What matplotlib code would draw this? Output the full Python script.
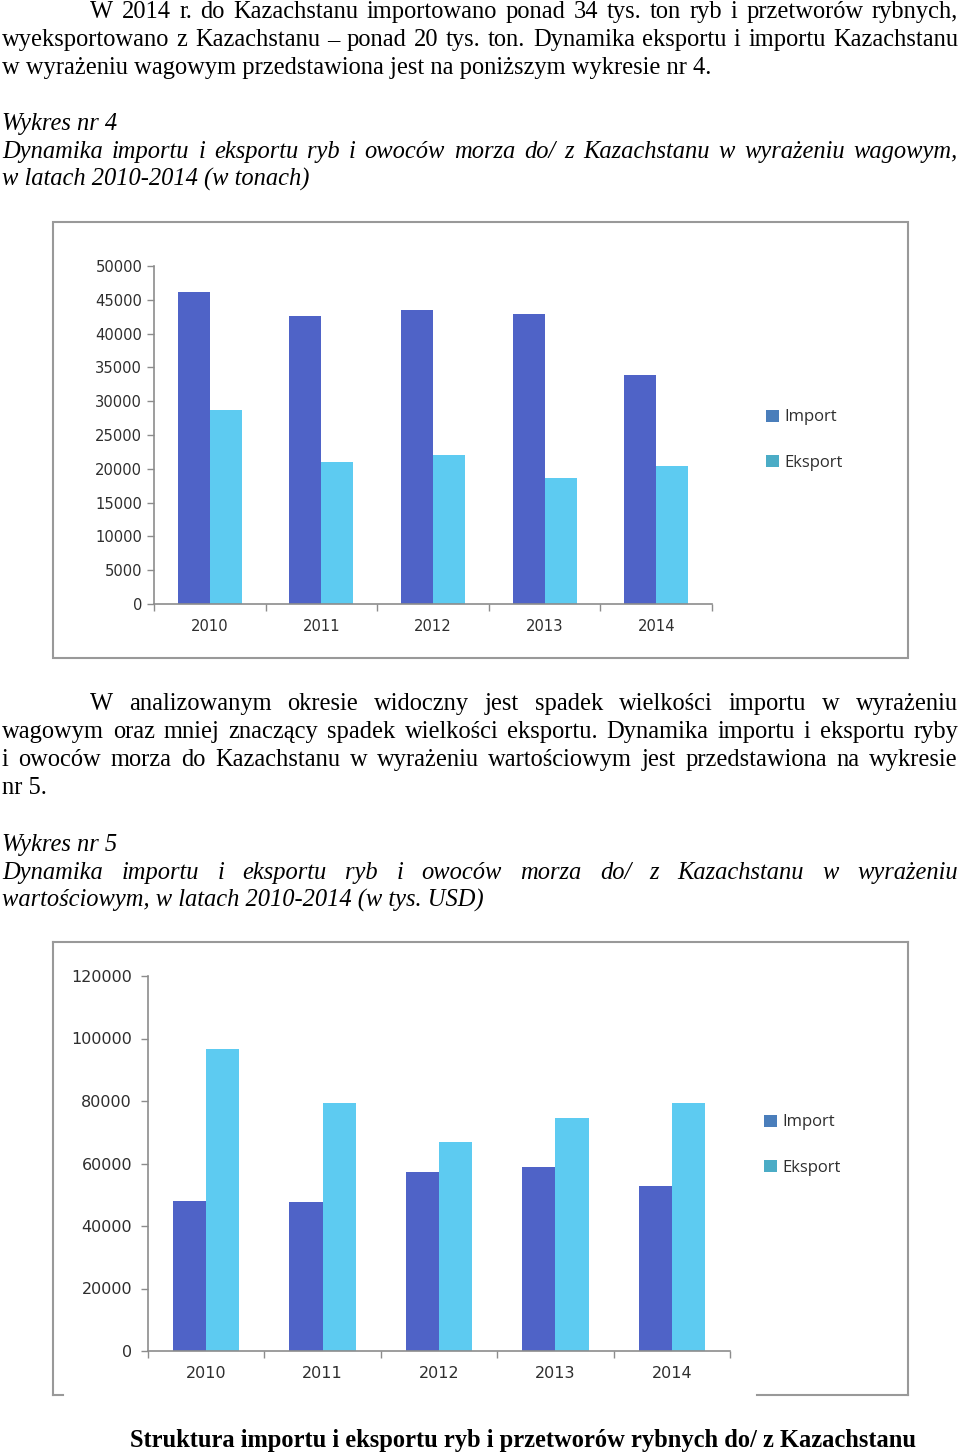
import numpy as np
import matplotlib
matplotlib.use('Agg')
import matplotlib.pyplot as plt
from matplotlib.patches import Patch, Rectangle
from matplotlib.lines import Line2D
from matplotlib.ticker import FuncFormatter

# ---------------- data ----------------
years = ['2010', '2011', '2012', '2013', '2014']
import_tons = [46200, 42600, 43500, 42900, 33900]
export_tons = [28700, 21000, 22000, 18600, 20400]
import_usd = [48000, 47700, 57300, 58900, 52800]
export_usd = [96700, 79400, 66900, 74600, 79400]
legend_labels = ['Import', 'Eksport']

IMP_C = '#4F63C7'
EXP_C = '#5DCBF1'
IMP_LEG = '#4A7EBB'
EXP_LEG = '#4BACC6'
AX_C = '#8C8C8C'
TXT_C = '#2E2E2E'

W, H = 960, 1456
fig = plt.figure(figsize=(W / 100, H / 100), dpi=100)
renderer = fig.canvas.get_renderer()


def fx(px):
    return px / W


def fy(py):
    return 1 - py / H


def axes_px(l, t, r, b):
    return fig.add_axes([l / W, 1 - b / H, (r - l) / W, (b - t) / H])


def bar_chart(ax, imp, exp, ymax, step, leg_x, leg_cy, lsize, ypad):
    x = np.arange(len(years))
    w = 0.286
    ax.bar(x - w / 2, imp, w, color=IMP_C, edgecolor='none', zorder=2)
    ax.bar(x + w / 2, exp, w, color=EXP_C, edgecolor='none', zorder=2)
    ax.set_xlim(-0.5, len(years) - 0.5)
    ax.set_ylim(0, ymax)
    ax.set_yticks(np.arange(0, ymax + 1, step))
    ax.yaxis.set_major_formatter(FuncFormatter(lambda v, p: f'{int(v)}'))
    ax.set_xticks(x)
    ax.set_xticklabels(years)
    ax.set_xticks(np.arange(-0.5, len(years)), minor=True)
    ax.tick_params(axis='x', which='major', length=0, pad=11, labelsize=lsize, labelcolor=TXT_C)
    ax.tick_params(axis='x', which='minor', length=5, width=1, color=AX_C, direction='out')
    ax.tick_params(axis='y', length=5, width=1, color=AX_C, pad=ypad, labelsize=lsize, labelcolor=TXT_C)
    for s in ['top', 'right']:
        ax.spines[s].set_visible(False)
    for s in ['left', 'bottom']:
        ax.spines[s].set_color(AX_C)
        ax.spines[s].set_linewidth(1.2)
    handles = [Patch(facecolor=IMP_LEG, edgecolor='none'), Patch(facecolor=EXP_LEG, edgecolor='none')]
    leg = ax.legend(handles, legend_labels, loc='center left',
                    bbox_to_anchor=(fx(leg_x), fy(leg_cy)), bbox_transform=fig.transFigure,
                    frameon=False, prop={'family': 'Open Sans', 'size': 12},
                    handlelength=0.75, handleheight=0.75, handletextpad=0.35,
                    labelspacing=1.75, borderpad=0, borderaxespad=0)
    for t in leg.get_texts():
        t.set_color(TXT_C)


# ---------------- chart 1 ----------------
fig.add_artist(Rectangle((fx(53), fy(658)), fx(908) - fx(53), fy(222) - fy(658),
                         transform=fig.transFigure, fill=False, edgecolor='#999999', lw=1.5))
ax1 = axes_px(154, 266, 712, 604)
bar_chart(ax1, import_tons, export_tons, 50000, 5000, 766, 440, 10.6, 3.5)

# ---------------- chart 2 ----------------
for xs, ys in [([53, 908], [942, 942]), ([53, 53], [942, 1395]), ([908, 908], [942, 1395]),
               ([53, 63], [1395, 1395]), ([757, 908], [1395, 1395])]:
    fig.add_artist(Line2D([fx(v) for v in xs], [fy(v) for v in ys],
                          transform=fig.transFigure, color='#999999', lw=1.5))
ax2 = axes_px(148, 976, 730, 1351)
bar_chart(ax2, import_usd, export_usd, 120000, 20000, 764, 1145, 11.5, 6.5)

# ---------------- document text ----------------
FS = 17.65
SERIF = ['Liberation Serif', 'DejaVu Serif']


def line(s, base, x0=2, x1=958, justify=True, **kw):
    props = dict(fontsize=FS, family=SERIF, color='black', va='baseline', ha='left')
    props.update(kw)
    if not justify:
        fig.text(fx(x0), fy(base), s, **props)
        return
    words = s.split(' ')
    objs = [fig.text(0, fy(base), w_, **props) for w_ in words]
    widths = [o.get_window_extent(renderer).width for o in objs]
    gap = (x1 - x0 - sum(widths)) / (len(words) - 1)
    x = x0
    for o, wd in zip(objs, widths):
        o.set_x(fx(x))
        x += wd + gap


line('W 2014 r. do Kazachstanu importowano ponad 34 tys. ton ryb i przetworów rybnych,', 18, x0=90)
line('wyeksportowano z Kazachstanu – ponad 20 tys. ton. Dynamika eksportu i importu Kazachstanu', 46)
line('w wyrażeniu wagowym przedstawiona jest na poniższym wykresie nr 4.', 74, justify=False)

line('Wykres nr 4', 130, justify=False, style='italic')
line('Dynamika importu i eksportu ryb i owoców morza do/ z Kazachstanu w wyrażeniu wagowym,', 158, style='italic')
line('w latach 2010-2014 (w tonach)', 186, justify=False, style='italic')

line('W analizowanym okresie widoczny jest spadek wielkości importu w wyrażeniu', 710, x0=90)
line('wagowym oraz mniej znaczący spadek wielkości eksportu. Dynamika importu i eksportu ryby', 738)
line('i owoców morza do Kazachstanu w wyrażeniu wartościowym jest przedstawiona na wykresie', 766)
line('nr 5.', 794, justify=False)

line('Wykres nr 5', 851, justify=False, style='italic')
line('Dynamika importu i eksportu ryb i owoców morza do/ z Kazachstanu w wyrażeniu', 879, style='italic')
line('wartościowym, w latach 2010-2014 (w tys. USD)', 907, justify=False, style='italic')

line('Struktura importu i eksportu ryb i przetworów rybnych do/ z Kazachstanu', 1447,
     justify=False, x0=130, weight='bold')

fig.savefig('out.png', dpi=100, facecolor='white')
